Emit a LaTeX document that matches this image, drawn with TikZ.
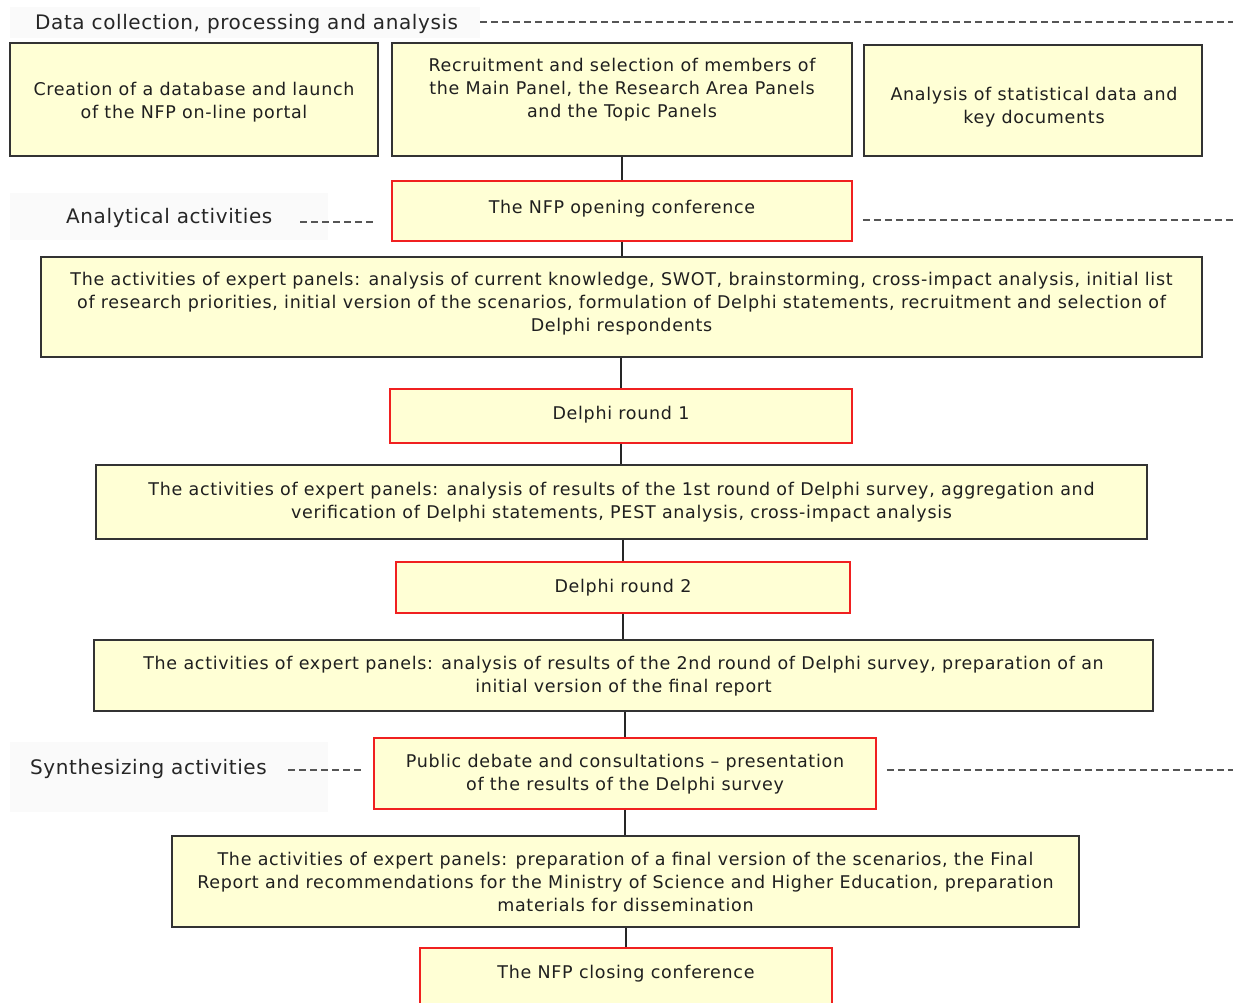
\documentclass[tikz,border=0pt]{standalone}
\usepackage{fontspec}
\setmainfont{DejaVu Sans}
\newfontfamily\boxfont{DejaVu Sans}[LetterSpace=4]
\newfontfamily\lblfont{DejaVu Sans}[LetterSpace=3]
\usetikzlibrary{calc}
\definecolor{boxfill}{HTML}{FFFFD5}
\definecolor{boxline}{HTML}{333333}
\definecolor{redline}{HTML}{F02020}
\definecolor{lblbg}{HTML}{FAFAFA}
\definecolor{dashcol}{HTML}{555555}
\begin{document}
\begin{tikzpicture}[x=1pt,y=-1pt,
  box/.style={draw=boxline, line width=1.6pt, fill=boxfill, inner sep=0pt, rectangle},
  redbox/.style={box, draw=redline},
  txt/.style={align=center, inner sep=0pt, text=black!88, font=\boxfont\fontsize{17.5}{23}\selectfont},
  lbl/.style={inner sep=0pt, text=black!85, font=\lblfont\fontsize{20}{24}\selectfont, anchor=west},
  dashline/.style={draw=dashcol, line width=1.3pt, dash pattern=on 7pt off 4pt},
  conn/.style={draw=black!85, line width=1.3pt}]
\useasboundingbox (0,0) rectangle (1233,1002);
\clip (0,0) rectangle (1233,1002);
\fill[white] (0,0) rectangle (1233,1002);

% label backgrounds
\fill[lblbg] (10,7) rectangle (480,38);
\fill[lblbg] (10,193) rectangle (328,240);
\fill[lblbg] (10,742) rectangle (328,812);

% labels
\node[lbl] (l1) at (35,24) {Data collection, processing and analysis};
\node[lbl] (l2) at (66,218) {Analytical activities};
\node[lbl] (l3) at (30,769) {Synthesizing activities};

% boxes
\node[box, minimum width=368, minimum height=113] (A) at (194,99.5) {};
\node[box, minimum width=460, minimum height=113] (B) at (622,99.5) {};
\node[box, minimum width=338, minimum height=111] (C) at (1033,100.5) {};
\node[redbox, minimum width=460, minimum height=60] (open) at (622,211) {};
\node[box, minimum width=1161, minimum height=100] (D) at (621.5,307) {};
\node[redbox, minimum width=462, minimum height=54] (r1) at (621,416) {};
\node[box, minimum width=1051, minimum height=74] (E) at (621.5,502) {};
\node[redbox, minimum width=454, minimum height=51] (r2) at (623,587.5) {};
\node[box, minimum width=1059, minimum height=71] (F) at (623.5,675.5) {};
\node[redbox, minimum width=502, minimum height=71] (pd) at (625,773.5) {};
\node[box, minimum width=907, minimum height=91] (G) at (625.5,881.5) {};
\node[redbox, minimum width=412, minimum height=64] (close) at (626,980) {};

% texts
\node[txt] (tA) at (194,102) {Creation of a database and launch\\of the NFP on-line portal};
\node[txt] (tB) at (622,90) {Recruitment and selection of members of\\the Main Panel, the Research Area Panels\\and the Topic Panels};
\node[txt] (tC) at (1034,107) {Analysis of statistical data and\\key documents};
\node[txt] (topen) at (622,209) {The NFP opening conference};
\node[txt] (tD) at (621.5,304) {The activities of expert panels: analysis of current knowledge, SWOT, brainstorming, cross-impact analysis, initial list\\of research priorities, initial version of the scenarios, formulation of Delphi statements, recruitment and selection of\\Delphi respondents};
\node[txt] (tr1) at (621,415) {Delphi round 1};
\node[txt] (tE) at (621.5,502) {The activities of expert panels: analysis of results of the 1st round of Delphi survey, aggregation and\\verification of Delphi statements, PEST analysis, cross-impact analysis};
\node[txt] (tr2) at (623,588) {Delphi round 2};
\node[txt] (tF) at (623.5,676.5) {The activities of expert panels: analysis of results of the 2nd round of Delphi survey, preparation of an\\initial version of the final report};
\node[txt] (tpd) at (625,774) {Public debate and consultations – presentation\\of the results of the Delphi survey};
\node[txt] (tG) at (625.5,882) {The activities of expert panels: preparation of a final version of the scenarios, the Final\\Report and recommendations for the Ministry of Science and Higher Education, preparation\\materials for dissemination};
\node[txt] (tclose) at (626,974) {The NFP closing conference};

% connectors
\draw[conn] (B.south) -- (open.north);
\draw[conn] (open.south) -- (open.south |- D.north);
\draw[conn] (r1.north |- D.south) -- (r1.north);
\draw[conn] (r1.south) -- (r1.south |- E.north);
\draw[conn] (r2.north |- E.south) -- (r2.north);
\draw[conn] (r2.south) -- (r2.south |- F.north);
\draw[conn] (pd.north |- F.south) -- (pd.north);
\draw[conn] (pd.south) -- (pd.south |- G.north);
\draw[conn] (close.north |- G.south) -- (close.north);

% dashed leaders
\coordinate (e1) at (1233,22);
\coordinate (e2) at (1233,220);
\coordinate (e3) at (1233,770);
\draw[dashline] (480,22) -- (e1);
\draw[dashline] (300,222) -- ($(open.west)+(-17,11)$);
\draw[dashline] ($(open.east)+(10,9)$) -- (e2);
\draw[dashline] (288,770) -- ($(pd.west)+(-9,-3.5)$);
\draw[dashline] ($(pd.east)+(10,-3.5)$) -- (e3);
\end{tikzpicture}
\end{document}
